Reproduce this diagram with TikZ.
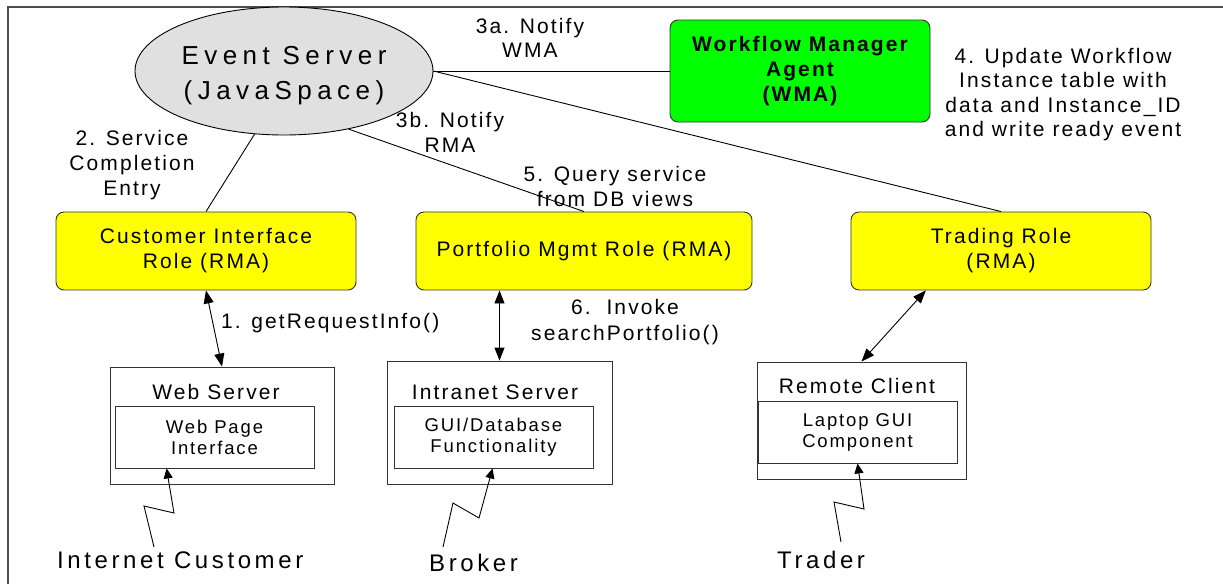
\documentclass[tikz,border=0pt]{standalone}
\usepackage{fontspec}
\setmainfont{Liberation Sans}
\newfontfamily\fa[LetterSpace=10]{Liberation Sans}
\newfontfamily\fb[LetterSpace=15]{Liberation Sans}
\newfontfamily\fc[LetterSpace=21]{Liberation Sans}
\newfontfamily\fs[LetterSpace=10]{Liberation Sans}
\usetikzlibrary{shapes.geometric,arrows.meta,calc}
\definecolor{roleyellow}{HTML}{FFFF00}
\definecolor{agentgreen}{HTML}{00FF00}
\definecolor{spacegray}{HTML}{E0E0E0}
\definecolor{edge}{HTML}{333333}
\tikzset{
  conn/.style={line width=0.9pt, draw=black},
  biarrow/.style={conn, {Triangle[length=13pt,width=10pt]}-{Triangle[length=13pt,width=10pt]}},
  bolt/.style={conn, -{Triangle[length=10pt,width=9pt]}},
  rolebox/.style={draw=edge, line width=0.9pt, fill=roleyellow, rounded corners=8pt,
    minimum height=78pt, inner sep=0pt, align=center, font=\fa\fontsize{21}{25}\selectfont},
  agentbox/.style={draw=edge, line width=0.9pt, fill=agentgreen, rounded corners=8pt,
    minimum width=260pt, minimum height=102pt, inner sep=0pt, align=center,
    font=\fa\bfseries\fontsize{21}{25}\selectfont},
  hostbox/.style={draw=edge, line width=0.9pt, inner sep=0pt},
  compbox/.style={draw=edge, line width=0.9pt, minimum width=199pt, minimum height=62pt,
    inner sep=0pt, align=center, font=\fs\fontsize{18.5}{21}\selectfont},
  hosttitle/.style={anchor=base, inner sep=0pt, font=\fa\fontsize{21}{25}\selectfont},
  lbl/.style={inner sep=0pt, align=center, font=\fa\fontsize{21}{24.6}\selectfont},
  actor/.style={anchor=base west, inner sep=0pt, font=\fb\fontsize{24}{28}\selectfont},
}
\begin{document}
\begin{tikzpicture}[x=1pt,y=-1pt]
\useasboundingbox (0,0) rectangle (1223,584);

% outer frame (top and left sides)
\draw[draw=black!70, line width=1.2pt] (8,584) -- (8,7) -- (1223,7);

% event server (the strut lowers the two lines a little inside the ellipse)
\node[ellipse, draw=black, line width=0.9pt, fill=spacegray, minimum width=298pt,
  minimum height=128pt, inner sep=0pt, align=center,
  font=\fc\fontsize{26}{35}\selectfont] (es) at (284,71)
  {\rule{0pt}{27pt}Event Server\\(JavaSpace)};

% workflow manager agent
\node[agentbox] (wma) at (800,71) {Workflow Manager\\Agent\\(WMA)};

% role agents
\node[rolebox, minimum width=300pt] (ci) at (206,251) {Customer Interface\\Role (RMA)};
\node[rolebox, minimum width=336pt] (pm) at (584,251) {Portfolio Mgmt Role (RMA)};
\node[rolebox, minimum width=300pt] (tr) at (1001,251) {Trading Role\\(RMA)};

% hosts
\node[hostbox, minimum width=224pt, minimum height=117pt] (ws) at (222,425.5) {};
\node[hosttitle] (wst) at (216,399) {Web Server};
\node[compbox] (wpi) at (214.5,437) {Web Page\\Interface};

\node[hostbox, minimum width=225pt, minimum height=123pt] (is) at (499.5,422.5) {};
\node[hosttitle] (ist) at (495,399) {Intranet Server};
\node[compbox] (gui) at (493.5,437) {GUI/Database\\Functionality};

\node[hostbox, minimum width=209pt, minimum height=117pt] (rc) at (861.5,420.5) {};
\node[hosttitle] (rct) at (857,393) {Remote Client};
\node[compbox] (lap) at (857.5,432) {Laptop GUI\\Component};

% event connectors
\draw[conn] (es.east) -- (wma.west);
\draw[conn] (es.east) -- (tr.north);
\draw[conn] (es.245) -- (ci.north);
\draw[conn] (es.318) -- (pm.north);

% role to host connectors
\draw[biarrow] (ci.south) -- (ws.north);
\draw[biarrow] (is.north |- pm.south) -- (is.north);
\coordinate (trx) at ($(tr.south west)!0.25!(tr.south east)$);
\draw[biarrow] (trx) -- (rc.north);

% user access links
\coordinate (wz0) at (154,547);
\coordinate (wz1) at (144,506);
\coordinate (wz2) at (174,513);
\coordinate (wtip) at ($(wpi.south west)+(52,0)$);
\draw[bolt] (wz0) -- (wz1) -- (wz2) -- (wtip);

\coordinate (bz0) at (443,547);
\coordinate (bz1) at (453,503);
\coordinate (bz2) at (479,518);
\coordinate (btip) at ($(gui.south west)+(99,0)$);
\draw[bolt] (bz0) -- (bz1) -- (bz2) -- (btip);

\coordinate (tz0) at (841,542);
\coordinate (tz1) at (834,502);
\coordinate (tz2) at (864,509);
\coordinate (ttip) at ($(lap.south west)+(100,0)$);
\draw[bolt] (tz0) -- (tz1) -- (tz2) -- (ttip);

% step labels
\node[lbl] (l3a) at (530,37.9) {3a. Notify\\WMA};
\node[lbl] (l2) at (132,165) {2. Service\\Completion\\Entry};
\node[lbl] (l3b) at (450,132.4) {3b. Notify\\RMA};
\node[lbl] (l5) at (615,186.4) {5. Query service\\from DB views};
\node[lbl] (l4) at (1063,94.5) {4. Update Workflow\\Instance table with\\data and Instance\_ID\\and write ready event};
\node[lbl, anchor=base west] (l1) at (221,328) {1. getRequestInfo()};
\node[lbl, font=\fa\fontsize{21}{26}\selectfont] (l6) at (625,322.5) {6.\ \ Invoke\\searchPortfolio()};

% actors
\node[actor] (ic) at (57,568) {Internet Customer};
\node[actor] (br) at (429,571) {Broker};
\node[actor] (td) at (777,568) {Trader};
\end{tikzpicture}
\end{document}
